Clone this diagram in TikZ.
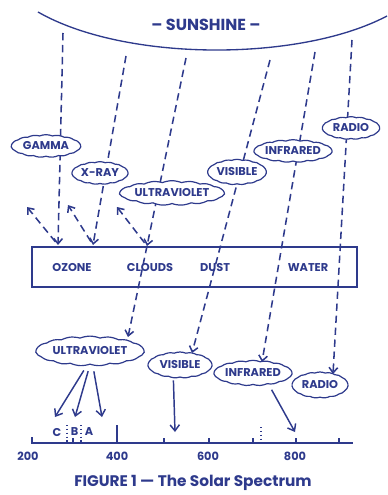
\documentclass[tikz,border=0pt]{standalone}
\usepackage{fontspec}
\setmainfont{Poppins}
\usetikzlibrary{positioning,shapes.symbols,arrows.meta,backgrounds}
\definecolor{ink}{HTML}{2E3A8C}
\tikzset{
  blob/.style={cloud, cloud puffs=17, cloud puff arc=45, aspect=4, draw=ink, fill=white, line width=0.9pt,
    inner sep=0pt, text=ink, font=\bfseries\fontsize{8.5}{9}\selectfont},
  lbl/.style={text=ink, font=\bfseries\fontsize{8.5}{9}\selectfont, inner sep=0pt},
  ray/.style={draw=ink, line width=1.15pt, dash pattern=on 5.5pt off 3.5pt},
  hit/.style={-{Straight Barb[length=4pt,width=6.5pt]}},
  pointer/.style={draw=ink, line width=1.1pt, -{Straight Barb[length=4.5pt,width=7pt]}}
}
\begin{document}
\begin{tikzpicture}[x=0.75pt,y=-0.75pt]
\useasboundingbox (0,0) rectangle (387,495);

% Sky
\draw[ink, line width=1pt] (38,12) .. controls (125,62) and (300,62) .. (387,16);
\node[lbl, font=\bfseries\fontsize{12}{12}\selectfont] (sun) at (206,25) {-- SUNSHINE --};

% Clouds on the way in
\node[blob, minimum width=52pt, minimum height=17pt] (gamma) at (46,146) {GAMMA};
\node[blob, minimum width=42pt, minimum height=17pt] (xray) at (100,173) {X-RAY};
\node[blob, minimum width=71pt, minimum height=16pt, aspect=5] (uv) at (172,193) {ULTRAVIOLET};
\node[blob, minimum width=44pt, minimum height=19pt] (visible) at (237,172) {VISIBLE};
\node[blob, minimum width=55pt, minimum height=17pt] (infrared) at (293,151) {INFRARED};
\node[blob, minimum width=43pt, minimum height=17pt] (radio) at (351,128) {RADIO};

% Atmosphere
\node[draw=ink, line width=1pt, minimum width=243.75pt, minimum height=30pt, inner sep=0pt] (atmos) at (194.5,267) {};
\node[lbl] (ozone) at (72,268) {OZONE};
\node[lbl] (clouds) at (150,268) {CLOUDS};
\node[lbl] (dust) at (215,268) {DUST};
\node[lbl] (water) at (308,268) {WATER};

% Clouds that get through
\node[blob, minimum width=81pt, minimum height=19pt] (uvlow) at (90,351) {ULTRAVIOLET};
\node[blob, minimum width=48pt, minimum height=19.5pt] (vislow) at (180,365) {VISIBLE};
\node[blob, minimum width=55pt, minimum height=19pt] (irlow) at (253,373) {INFRARED};
\node[blob, minimum width=42pt, minimum height=19.5pt] (radiolow) at (320,385) {RADIO};

% Scale
\draw[ink, line width=1pt] (32,437) -- (32,443) -- (353,443);
\draw[ink, line width=1.2pt] (117,425) -- (117,443);
\foreach \x in {73,164,209,253,296,339}
  \draw[ink, line width=1pt] (\x,438) -- (\x,443);
\foreach \x/\y in {67/425,81/425,261/427}
  \draw[ink, line width=0.9pt, dotted] (\x,\y) -- (\x,443);
\node[lbl] (bandC) at (57,432) {C};
\node[lbl] (bandB) at (74.5,432) {B};
\node[lbl] (bandA) at (89,432) {A};
\foreach \v/\x in {200/28,400/117,600/208,800/295}
  \node[lbl] (nm\v) at (\x,456) {\v};
\node[lbl, font=\bfseries\fontsize{11.5}{12}\selectfont] (caption) at (193,483) {FIGURE 1 --- The Solar Spectrum};

% Ray ends
\coordinate (sG) at (63,33);   \coordinate (hG) at (58,245);  \coordinate (rG) at (27,207);
\coordinate (sX) at (126,56);  \coordinate (hX) at (93,245);  \coordinate (rX) at (68,205);
\coordinate (sU) at (186,58);  \coordinate (hU) at (147,246); \coordinate (rU) at (117,207);
\coordinate (eU) at (128,337);
\coordinate (sV) at (270,60);  \coordinate (eV) at (192,353);
\coordinate (sI) at (315,52);  \coordinate (eI) at (262,362);
\coordinate (sR) at (352,40);  \coordinate (eR) at (333,374);
\coordinate (tC) at (55,417);  \coordinate (tB) at (75,417);  \coordinate (tA) at (102,417);
\coordinate (tV) at (175,432); \coordinate (tI) at (295,432);

% Connect
\begin{pgfonlayer}{background}
  \draw[ray, hit] (sG) -- (hG);
  \draw[ray, hit] (sX) -- (hX);
  \draw[ray, hit] (sU) -- (hU);
  \draw[ray, hit] (hU) -- (eU);
  \draw[ray, hit] (sV) -- (eV);
  \draw[ray, hit] (sI) -- (eI);
  \draw[ray, hit] (sR) -- (eR);
\end{pgfonlayer}
\draw[ray, hit, shorten <=3pt] (hG) -- (rG);
\draw[ray, hit, shorten <=3pt] (hX) -- (rX);
\draw[ray, hit, shorten <=3pt] (hU) -- (rU);

\draw[pointer, shorten <=5pt] ([xshift=-2pt]uvlow.south) -- (tC);
\draw[pointer, shorten <=5pt] ([xshift=0pt]uvlow.south) -- (tB);
\draw[pointer, shorten <=5pt] ([xshift=2pt]uvlow.south) -- (tA);
\draw[pointer, shorten <=2pt] ([xshift=-5pt]vislow.south) -- (tV);
\draw[pointer, shorten <=4pt] ([xshift=12pt]irlow.south) -- (tI);

\end{tikzpicture}
\end{document}
